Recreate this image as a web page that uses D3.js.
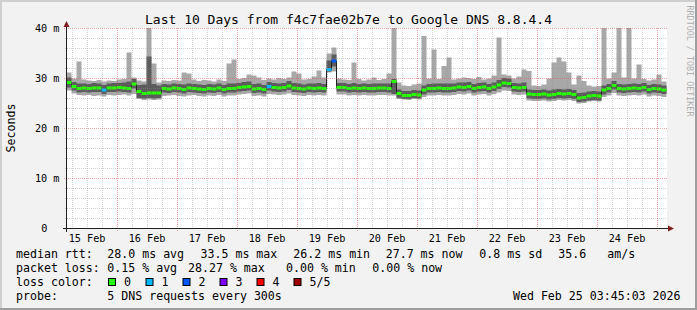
<!DOCTYPE html>
<html><head><meta charset="utf-8">
<script src="https://cdn.jsdelivr.net/npm/d3@7/dist/d3.min.js"></script>
<style>html,body{margin:0;padding:0;background:#f2f2f2}svg{display:block}text{font-family:"DejaVu Sans Mono",monospace;fill:#000}</style>
</head><body><svg id="c" width="697" height="310"></svg>
<script>
// ---------- data ----------
const title = "Last 10 Days from f4c7fae02b7e to Google DNS 8.8.4.4";
const startTime = new Date(2026, 1, 15, 3, 45, 3);
const endTime = new Date(2026, 1, 25, 3, 45, 3);
const stepHours = 2;
const yTicks = [0, 10, 20, 30, 40];
const yTickLabels = ["0", "10 m", "20 m", "30 m", "40 m"];
const median = [
29.2,28.4,28.0,28.1,28.0,28.1,28.1,27.7,28.1,28.1,
28.2,28.1,28.0,28.9,27.4,27.0,27.1,27.1,27.1,28.0,
27.9,28.1,28.0,27.8,28.1,28.0,27.9,27.8,28.0,27.9,
28.1,27.8,28.0,28.0,28.2,28.3,28.4,27.9,28.0,27.8,
28.4,28.2,28.1,28.2,28.5,28.1,28.0,27.9,28.1,28.0,
28.1,28.0,31.8,33.5,28.2,28.2,28.0,28.1,28.0,28.1,
28.0,28.0,28.1,28.1,28.0,29.4,27.0,26.6,26.6,26.8,
26.7,27.7,28.0,28.0,28.1,28.0,28.0,28.1,28.3,28.2,
28.4,28.0,28.2,28.3,28.0,28.3,28.7,29.1,29.0,28.2,
28.1,28.2,26.9,26.8,26.8,26.9,26.7,26.8,27.0,26.9,
27.0,26.8,26.1,26.2,26.5,26.6,26.5,27.7,28.0,28.6,
28.0,27.9,28.0,28.1,28.0,28.2,27.8,28.0,27.9,27.7];
const lossCount = [
0,0,0,0,0,0,0,1,0,0, 0,0,0,0,0,0,0,0,0,0,
0,0,0,0,0,0,0,0,0,0, 0,0,0,0,0,0,0,0,0,0,
1,0,0,0,0,0,0,0,0,0, 0,0,1,2,0,0,0,0,0,0,
0,0,0,0,0,0,0,0,0,0, 0,0,0,0,0,0,0,0,0,0,
0,0,0,0,0,0,0,0,0,0, 0,0,0,0,0,0,0,0,0,0,
0,0,0,0,0,0,0,0,0,0, 0,0,0,0,0,0,0,0,0,0];
const pingMin = [
27.6,27.0,26.7,26.6,26.7,26.5,26.6,26.4,26.7,26.6,
26.7,26.8,26.6,26.9,25.9,25.7,25.8,25.7,25.8,26.5,
26.6,26.7,26.5,26.4,26.6,26.7,26.5,26.4,26.6,26.5,
26.7,26.4,26.6,26.6,26.8,26.9,27.0,26.5,26.6,26.4,
26.9,26.8,26.7,26.8,27.0,26.7,26.6,26.5,26.7,26.6,
26.7,26.6,31.2,31.4,26.8,26.8,26.6,26.7,26.6,26.7,
26.6,26.6,26.7,26.7,26.6,26.6,25.9,25.8,25.7,25.9,
25.8,26.3,26.6,26.6,26.7,26.6,26.6,26.7,26.9,26.8,
27.0,26.6,26.8,26.9,26.6,26.9,27.2,27.6,27.5,26.8,
26.7,26.8,25.6,25.5,25.5,25.6,25.4,25.5,25.7,25.6,
25.7,25.5,25.0,25.1,25.4,25.5,25.4,26.3,26.6,27.1,
26.6,26.5,26.6,26.7,26.6,26.8,26.4,26.6,26.5,26.3];
const ping2 = [
28.2,27.6,27.2,27.3,27.2,27.3,27.3,26.9,27.3,27.3,
27.4,27.3,27.2,28.0,26.1,26.0,26.1,26.0,26.1,27.2,
27.1,27.3,27.2,27.0,27.3,27.2,27.1,27.0,27.2,27.1,
27.3,27.0,27.2,27.2,27.4,27.5,27.6,27.1,27.2,27.0,
27.6,27.4,27.3,27.4,27.7,27.3,27.2,27.1,27.3,27.2,
27.3,27.2,31.4,32.4,27.4,27.4,27.2,27.3,27.2,27.3,
27.2,27.2,27.3,27.3,27.2,26.9,26.1,25.9,25.9,26.1,
26.0,26.8,27.2,27.2,27.3,27.2,27.2,27.3,27.5,27.4,
27.6,27.2,27.4,27.5,27.2,27.5,27.9,28.3,28.2,27.4,
27.3,27.4,26.0,25.9,25.9,26.0,25.8,25.9,26.1,26.0,
26.1,25.9,25.3,25.4,25.6,25.7,25.6,26.8,27.2,27.8,
27.2,27.1,27.2,27.3,27.2,27.4,27.0,27.2,27.1,26.9];
const ping4 = [
30.2,29.3,29.0,29.0,28.9,29.1,29.0,28.7,29.0,29.1,
29.1,29.2,29.4,29.9,28.7,28.8,34.4,28.9,28.6,28.9,
28.8,29.0,28.9,28.8,29.0,28.9,28.8,28.7,28.9,28.8,
29.0,28.7,29.0,29.0,29.1,29.3,29.4,28.9,29.0,28.7,
29.3,29.1,29.0,29.1,29.5,29.1,29.0,28.8,29.0,29.0,
29.1,28.9,33.6,34.8,29.1,29.1,28.9,29.1,28.9,29.0,
28.9,29.0,29.0,29.0,29.0,29.9,27.8,27.5,27.5,27.7,
27.6,28.6,28.9,29.0,29.0,29.0,29.0,29.0,29.2,29.2,
29.3,28.9,29.1,29.2,28.9,29.2,29.7,30.1,30.0,29.1,
29.0,29.2,27.8,27.7,27.7,27.8,27.6,27.8,27.9,27.8,
27.9,27.7,27.1,27.2,27.4,27.5,27.4,28.6,28.9,29.5,
28.9,28.8,28.9,29.0,28.9,29.1,28.7,28.9,28.8,28.6];
const pingMax = [
31.2,30.0,33.4,29.8,29.6,29.5,29.7,29.4,29.6,29.5,
29.8,29.9,35.2,30.2,29.6,29.4,41.0,33.0,29.2,29.6,
29.5,29.7,29.6,31.2,31.0,29.8,29.5,29.7,29.6,29.4,
29.8,29.5,33.0,33.8,29.9,30.1,30.8,30.6,30.2,29.7,
30.0,29.8,30.1,29.9,30.2,31.4,31.0,29.8,29.9,30.4,
31.6,30.2,35.0,36.2,30.0,29.8,29.7,33.2,29.9,29.6,
29.8,30.2,29.7,29.9,31.0,41.0,29.2,28.6,28.5,28.8,
29.0,38.5,30.0,35.8,29.9,32.5,34.2,29.8,30.0,30.2,
30.1,29.9,30.3,29.8,30.0,30.6,38.2,30.8,30.6,30.0,
30.4,31.8,31.5,28.6,28.5,28.8,30.0,33.2,34.2,33.4,
31.2,28.8,30.6,29.5,28.6,28.4,28.5,41.0,30.0,31.2,
41.0,30.2,41.0,30.0,32.8,29.9,29.6,29.8,30.8,29.4];
const lossLabels = ["0", "1", "2", "3", "4", "5/5"];
const lossColors = ["#26ff00", "#00b8ff", "#0059ff", "#7e00ff", "#ff0000", "#a10000"];
const legendRtt = ["median rtt:", "28.0 ms avg", "33.5 ms max", "26.2 ms min", "27.7 ms now", "0.8 ms sd", "35.6", "am/s"];
const legendLoss = ["packet loss:", "0.15 % avg", "28.27 % max", "0.00 % min", "0.00 % now"];
const legendProbe = ["probe:", "5 DNS requests every 300s"];
const stamp = "Wed Feb 25 03:45:03 2026";

// ---------- layout ----------
const svg = d3.select("#c");
const X0 = 67, X1 = 667, Y0 = 228, Y1 = 28;
const x = d3.scaleTime().domain([startTime, endTime]).range([X0 - 0.5, X1 - 0.5]);
const y = d3.scaleLinear().domain([0, 40]).range([Y0 + 0.5, Y1 + 0.5]);

svg.append("rect").attr("width", 697).attr("height", 310).attr("fill", "#f2f2f2");
svg.append("rect").attr("x", 0).attr("y", 0).attr("width", 697).attr("height", 2).attr("fill", "#cfcfcf");
svg.append("rect").attr("x", 0).attr("y", 0).attr("width", 2).attr("height", 310).attr("fill", "#cfcfcf");
svg.append("rect").attr("x", 0).attr("y", 308).attr("width", 697).attr("height", 2).attr("fill", "#9e9e9e");
svg.append("rect").attr("x", 695).attr("y", 0).attr("width", 2).attr("height", 310).attr("fill", "#9e9e9e");
svg.append("rect").attr("x", X0).attr("y", Y1).attr("width", X1 - X0).attr("height", Y0 - Y1 + 1).attr("fill", "#fff");

// data points
const pts = median.map((m, i) => ({
  t: d3.timeHour.offset(startTime, i * stepHours),
  t2: d3.timeHour.offset(startTime, (i + 1) * stepHours),
  med: m, loss: lossCount[i], lo: pingMin[i], lo2: ping2[i], hi2: ping4[i], hi: pingMax[i]
}));
const stepPts = pts.concat([Object.assign({}, pts[pts.length - 1], {t: endTime})]);

const defs = svg.append("defs");
defs.append("clipPath").attr("id", "pc").append("rect")
  .attr("x", X0).attr("y", Y1).attr("width", X1 - X0).attr("height", Y0 - Y1 + 1);
const g = svg.append("g").attr("clip-path", "url(#pc)");

g.append("path").datum(stepPts).attr("fill", "#a8a8a8")
  .attr("d", d3.area().curve(d3.curveStepAfter).x(d => x(d.t)).y0(d => y(d.lo)).y1(d => y(d.hi)));
g.append("path").datum(stepPts).attr("fill", "#5c5c5c")
  .attr("d", d3.area().curve(d3.curveStepAfter).x(d => x(d.t)).y0(d => y(d.lo2)).y1(d => y(d.hi2)));
g.append("path").datum(stepPts).attr("fill", "none").attr("stroke", "#202020").attr("stroke-width", 1)
  .attr("d", d3.line().curve(d3.curveStepAfter).x(d => x(d.t)).y(d => y(d.med)));
g.selectAll("rect.med").data(pts).join("rect").attr("class", "med")
  .attr("x", d => x(d.t)).attr("width", d => x(d.t2) - x(d.t))
  .attr("y", d => y(d.med) - 1.5).attr("height", 3)
  .attr("fill", d => lossColors[d.loss]);

// grid
const grid = svg.append("g");
const minorV = d3.timeHour.every(6).range(startTime, endTime).filter(d => d.getHours() !== 0);
const majorV = d3.timeDay.range(startTime, endTime);
const minorH = d3.range(2, 41, 2).filter(v => v % 10 !== 0);
grid.selectAll("line.mv").data(minorV).join("line")
  .attr("x1", d => Math.round(x(d)) + 0.5).attr("x2", d => Math.round(x(d)) + 0.5)
  .attr("y1", Y1).attr("y2", Y0 + 2)
  .attr("stroke", "rgba(143,143,143,0.4)").attr("stroke-dasharray", "1,1");
grid.selectAll("line.mh").data(minorH).join("line")
  .attr("y1", d => y(d)).attr("y2", d => y(d)).attr("x1", X0 - 2).attr("x2", X1)
  .attr("stroke", "rgba(143,143,143,0.4)").attr("stroke-dasharray", "1,1");
grid.selectAll("line.Mv").data(majorV).join("line")
  .attr("x1", d => Math.round(x(d)) + 0.5).attr("x2", d => Math.round(x(d)) + 0.5)
  .attr("y1", Y1).attr("y2", Y0 + 3)
  .attr("stroke", "rgba(222,79,79,0.5)").attr("stroke-dasharray", "1,1");
grid.selectAll("line.Mh").data(yTicks.slice(1)).join("line")
  .attr("y1", d => y(d)).attr("y2", d => y(d)).attr("x1", X0 - 3).attr("x2", X1)
  .attr("stroke", "rgba(222,79,79,0.5)").attr("stroke-dasharray", "1,1");

// axes
svg.append("line").attr("x1", X0 - 4).attr("x2", X1 + 3).attr("y1", Y0 + 0.5).attr("y2", Y0 + 0.5).attr("stroke", "#1f1f1f");
svg.append("line").attr("x1", X0 - 0.5).attr("x2", X0 - 0.5).attr("y1", Y0 + 4).attr("y2", Y1 - 3).attr("stroke", "#1f1f1f");
svg.append("path").attr("d", `M${X1 + 1},${Y0 - 2.5}L${X1 + 1},${Y0 + 3.5}L${X1 + 7},${Y0 + 0.5}Z`).attr("fill", "#801f1f");
svg.append("path").attr("d", `M${X0 - 3.5},${Y1 - 1}L${X0 + 2.5},${Y1 - 1}L${X0 - 0.5},${Y1 - 7}Z`).attr("fill", "#801f1f");

// axis labels
const fmt = d3.timeFormat("%d %b");
const noons = d3.timeDay.range(d3.timeDay.floor(startTime), endTime).map(d => d3.timeHour.offset(d, 12)).filter(d => d > startTime && d < endTime);
svg.selectAll("text.xl").data(noons).join("text").attr("class", "xl")
  .attr("x", d => x(d)).attr("y", 241.5).attr("text-anchor", "middle").style("font-size", "10.2px").text(fmt);
svg.selectAll("text.yl").data(yTicks).join("text").attr("class", "yl")
  .attr("x", (d, i) => i === 0 ? 47.5 : 59.5).attr("y", d => y(d) + 3.7).attr("text-anchor", "end")
  .style("font-size", "10.2px").text((d, i) => yTickLabels[i]);

svg.append("text").attr("transform", "translate(15,128) rotate(-90)").attr("text-anchor", "middle")
  .style("font-size", "11.6px").text("Seconds");
svg.append("text").attr("transform", "translate(687,61) rotate(90)").attr("text-anchor", "middle")
  .style("font-size", "8.4px").style("fill", "#b0b0b0").text("RRDTOOL / TOBI OETIKER");
svg.append("text").attr("x", 348.5).attr("y", 23.5).attr("text-anchor", "middle").style("font-size", "13px").text(title);

// legend
const lfs = "11.6px";
const row = (items, xs, yy) => items.forEach((s, i) =>
  svg.append("text").attr("x", xs[i]).attr("y", yy).style("font-size", lfs).attr("xml:space", "preserve").text(s));
row(legendRtt, [16, 107.3, 200.5, 293.3, 385.7, 479.3, 558.3, 607.3], 258);
row(legendLoss, [16, 107.3, 188, 286, 372.3], 272);
row(["loss color:"], [16], 286);
const boxX = [108, 145.5, 182.5, 219.5, 256.5, 293.5];
lossLabels.forEach((l, i) => {
  svg.append("rect").attr("x", boxX[i] + 0.5).attr("y", 278.5).attr("width", 7).attr("height", 7)
    .attr("fill", lossColors[i]).attr("stroke", "#000");
  svg.append("text").attr("x", boxX[i] + 16).attr("y", 286).style("font-size", lfs).text(l);
});
row(legendProbe, [16, 107.3], 300);
svg.append("text").attr("x", 680.5).attr("y", 300).attr("text-anchor", "end").style("font-size", lfs).text(stamp);
</script></body></html>
